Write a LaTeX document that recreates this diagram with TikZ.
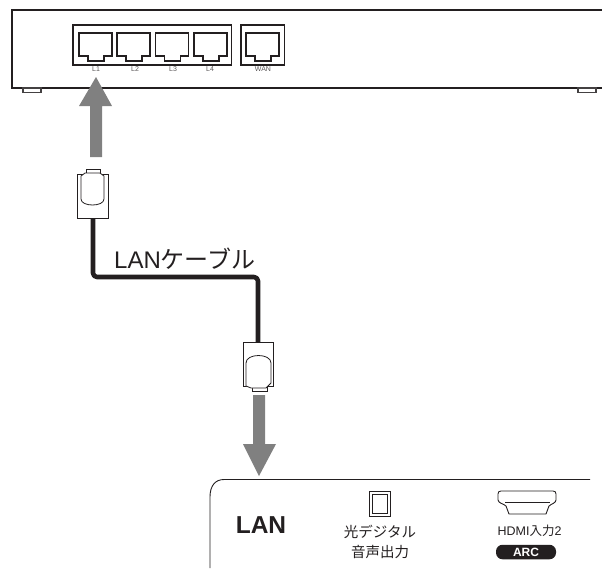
\documentclass[tikz,border=0pt]{standalone}
\usepackage{fontspec}
\setmainfont{Liberation Sans}
\newfontfamily\cjk{Noto Sans CJK JP}
\usetikzlibrary{arrows.meta}
\definecolor{ink}{HTML}{231F20}
\definecolor{arrowgray}{HTML}{808080}
\tikzset{
  x=1pt,y=-1pt,
  device/.style={draw=ink,line width=2.4pt},
  portline/.style={draw=ink,line width=1.7pt,line join=miter},
  plugline/.style={draw=ink,line width=.8pt},
  cable/.style={draw=ink,line width=4.6pt,line join=round,rounded corners=4pt},
  bigarrow/.style={draw=none,fill=arrowgray},
  tiny/.style={inner sep=0pt,font=\fontsize{7}{7}\selectfont,text=ink!75},
  port/.pic={\draw[portline] (0,0)--(33,0)--(33,23)--(25,23)--(25,28)--(9,28)--(9,23)--(0,23)--cycle;},
}
\begin{document}
\begin{tikzpicture}
\useasboundingbox (0,0) rectangle (602,568);
% router
\draw[device] (602,10) -- (12,10) -- (12,88) -- (602,88);
\draw[ink!85,line width=1.6pt,fill=white] (23,88) rectangle (41,92.5);
\draw[ink!85,line width=1.6pt,fill=white] (578,88) rectangle (596,92.5);
\draw[portline] (73,25) rectangle (231.5,65);
\draw[portline] (241,25) rectangle (284.5,65);
\pic at (79,33) {port};
\pic at (117,33) {port};
\pic at (155.5,33) {port};
\pic at (194,33) {port};
\pic at (246,33) {port};
\node[tiny] (l1) at (96,69) {L1};
\node[tiny] (l2) at (135,69) {L2};
\node[tiny] (l3) at (173,69) {L3};
\node[tiny] (l4) at (210,69) {L4};
\node[tiny] (wan) at (263,69) {WAN};
% arrow up
\fill[bigarrow] (90,157)--(102,157)--(102,106)--(112,106)--(96,77)--(79,106)--(90,106)--cycle;
% cable
\coordinate (p1) at (93,217);
\coordinate (p2) at (258,343);
\draw[cable] (p1) -- (93,277) -- (258,277) -- (p2);
% plug top
\draw[plugline,fill=white] (77,174) rectangle (108,218);
\draw[plugline,fill=white] (86,169.5) rectangle (100,174);
\draw[plugline,fill=white] (81,176) -- (81,199) .. controls (81,207) and (104,207) .. (104,199) -- (104,176) -- (100,173) -- (85,173) -- cycle;
% plug bottom
\draw[plugline,fill=white] (243,342) rectangle (273,386);
\draw[plugline,fill=white] (252,386) rectangle (267,391);
\draw[plugline,fill=white] (246,386) -- (246,363) .. controls (246,353) and (271,353) .. (271,363) -- (271,383) -- (266,388) -- (251,388) -- cycle;
\node[inner sep=0pt,anchor=base west,font=\fontsize{24}{24}\selectfont,text=ink] (cablelabel) at (114,268) {LAN{\cjk ケーブル}};
% arrow down
\fill[bigarrow] (253,395)--(265,395)--(265,444)--(276,444)--(259,476)--(243,444)--(253,444)--cycle;
% TV
\draw[ink,line width=.9pt] (210,568) -- (210,497) .. controls (210,486) and (215,479.5) .. (224,479.5) -- (590,479.5);
\node[inner sep=0pt,font=\bfseries\fontsize{24.5}{24.5}\selectfont,text=ink] (lan) at (261,525) {LAN};
\draw[ink,line width=.9pt] (369.5,491) rectangle (390,516.5);
\draw[ink,line width=.8pt] (372.5,494) rectangle (387,513.5);
\node[inner sep=0pt,font=\cjk\fontsize{14.5}{20}\selectfont,text=ink,align=center] (optical) at (380,542) {光デジタル\\音声出力};
\draw[ink,line width=.9pt] (501,491) -- (553,491) .. controls (555,491) and (556,492) .. (556,494) -- (556,500) .. controls (556,503) and (551,504) .. (549,506) -- (546,514) -- (509,514) -- (506,506) .. controls (504,504) and (498,503) .. (498,500) -- (498,494) .. controls (498,492) and (499,491) .. (501,491) -- cycle;
\draw[ink,line width=.7pt] (505,502) -- (550,502);
\node[inner sep=0pt,font=\fontsize{12.5}{13}\selectfont,text=ink] (hdmi) at (529.5,531) {HDMI{\cjk 入力}2};
\node[fill=ink,rounded corners=6.5pt,minimum width=60pt,minimum height=14.5pt,inner sep=0pt,text=white,font=\bfseries\fontsize{12}{12}\selectfont] (arc) at (526,552) {ARC};
\end{tikzpicture}
\end{document}
